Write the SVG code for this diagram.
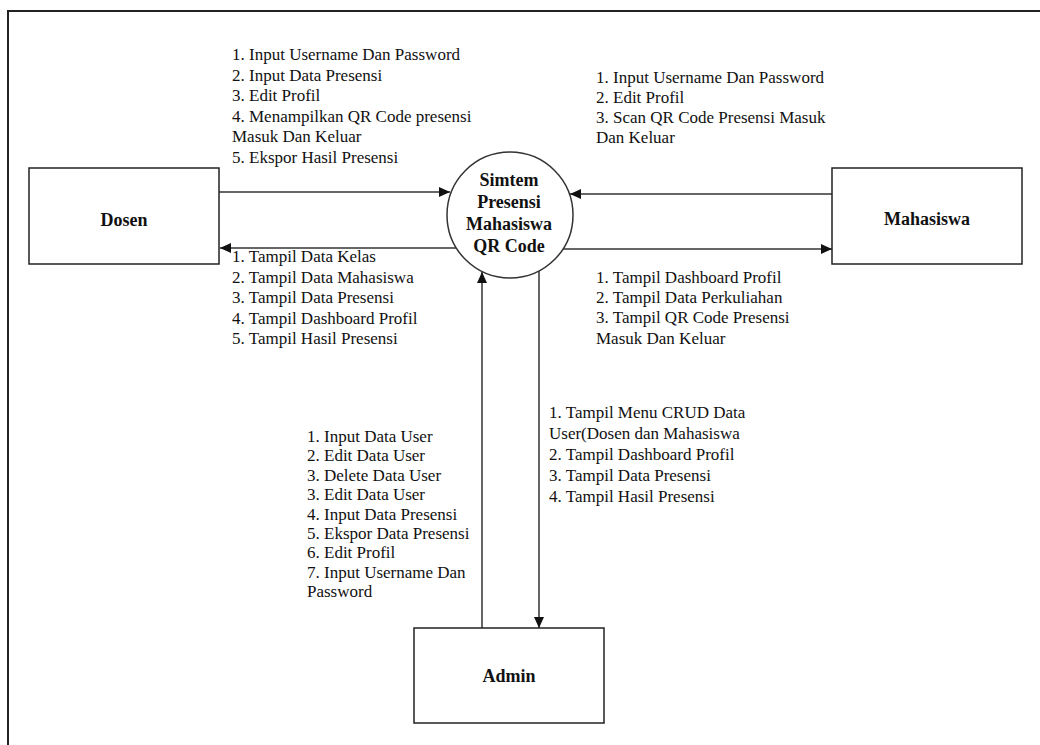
<svg xmlns="http://www.w3.org/2000/svg" width="1040" height="745" viewBox="0 0 1040 745" font-family="Liberation Serif, DejaVu Serif, serif">
  <style>
    .frame { fill: none; stroke: #222; stroke-width: 2; }
    .box { fill: #fff; stroke: #222; stroke-width: 1.5; }
    .proc { fill: #fff; stroke: #333; stroke-width: 1.5; }
    .flow { fill: none; stroke: #333; stroke-width: 1.5; marker-end: url(#head); }
    .title { font-size: 18px; font-weight: bold; text-anchor: middle; fill: #111; }
    .label { font-size: 17px; fill: #111; }
  </style>
  <defs>
    <marker id="head" markerUnits="userSpaceOnUse" markerWidth="12" markerHeight="10" refX="11" refY="5" orient="auto">
      <path d="M0,0 L11,5 L0,10 z" fill="#111"/>
    </marker>
  </defs>

  <rect width="1040" height="745" fill="#fff"/>
  <!-- page border (top and left edges) -->
  <path class="frame" d="M8,745 L8,11 L1040,11"/>

  <!-- connectors -->
  <g id="connectors">
    <line class="flow" x1="219" y1="192" x2="450" y2="192"/>
    <line class="flow" x1="456" y1="248" x2="220" y2="248"/>
    <line class="flow" x1="832" y1="194" x2="570" y2="194"/>
    <line class="flow" x1="563" y1="249" x2="832" y2="249"/>
    <line class="flow" x1="482" y1="628" x2="482" y2="272"/>
    <line class="flow" x1="539" y1="271" x2="539" y2="628"/>
  </g>

  <!-- central process -->
  <g id="sistem" font-family="Liberation Serif, serif">
    <circle class="proc" cx="510" cy="215" r="63"/>
    <text class="title" x="509" y="186">Simtem</text>
    <text class="title" x="509" y="208">Presensi</text>
    <text class="title" x="509" y="230">Mahasiswa</text>
    <text class="title" x="509" y="252">QR Code</text>
  </g>

  <!-- external entities -->
  <g id="dosen" font-family="Liberation Serif, serif">
    <rect class="box" x="29" y="168" width="190" height="96"/>
    <text class="title" x="124" y="226">Dosen</text>
  </g>
  <g id="mahasiswa" font-family="Liberation Serif, serif">
    <rect class="box" x="832" y="168" width="190" height="96"/>
    <text class="title" x="927" y="225">Mahasiswa</text>
  </g>
  <g id="admin" font-family="Liberation Serif, serif">
    <rect class="box" x="414" y="628" width="190" height="95"/>
    <text class="title" x="509" y="682">Admin</text>
  </g>

  <!-- flow labels -->
  <g id="label-dosen-in" class="label" font-family="Liberation Serif, serif">
    <text x="232" y="60">1. Input Username Dan Password</text>
    <text x="232" y="81">2. Input Data Presensi</text>
    <text x="232" y="101">3. Edit Profil</text>
    <text x="232" y="122">4. Menampilkan QR Code presensi</text>
    <text x="232" y="142">Masuk Dan Keluar</text>
    <text x="232" y="163">5. Ekspor Hasil Presensi</text>
  </g>
  <g id="label-dosen-out" class="label" font-family="Liberation Serif, serif">
    <text x="232" y="262">1. Tampil Data Kelas</text>
    <text x="232" y="283">2. Tampil Data Mahasiswa</text>
    <text x="232" y="303">3. Tampil Data Presensi</text>
    <text x="232" y="324">4. Tampil Dashboard Profil</text>
    <text x="232" y="344">5. Tampil Hasil Presensi</text>
  </g>
  <g id="label-mhs-in" class="label" font-family="Liberation Serif, serif">
    <text x="596" y="83">1. Input Username Dan Password</text>
    <text x="596" y="103">2. Edit Profil</text>
    <text x="596" y="123">3. Scan QR Code Presensi Masuk</text>
    <text x="596" y="143">Dan Keluar</text>
  </g>
  <g id="label-mhs-out" class="label" font-family="Liberation Serif, serif">
    <text x="596" y="283">1. Tampil Dashboard Profil</text>
    <text x="596" y="303">2. Tampil Data Perkuliahan</text>
    <text x="596" y="323">3. Tampil QR Code Presensi</text>
    <text x="596" y="344">Masuk Dan Keluar</text>
  </g>
  <g id="label-admin-in" class="label" font-family="Liberation Serif, serif">
    <text x="307" y="442">1. Input Data User</text>
    <text x="307" y="461">2. Edit Data User</text>
    <text x="307" y="481">3. Delete Data User</text>
    <text x="307" y="500">3. Edit Data User</text>
    <text x="307" y="520">4. Input Data Presensi</text>
    <text x="307" y="539">5. Ekspor Data Presensi</text>
    <text x="307" y="558">6. Edit Profil</text>
    <text x="307" y="578">7. Input Username Dan</text>
    <text x="307" y="597">Password</text>
  </g>
  <g id="label-admin-out" class="label" font-family="Liberation Serif, serif">
    <text x="549" y="418">1. Tampil Menu CRUD Data</text>
    <text x="549" y="439">User(Dosen dan Mahasiswa</text>
    <text x="549" y="460">2. Tampil Dashboard Profil</text>
    <text x="549" y="481">3. Tampil Data Presensi</text>
    <text x="549" y="502">4. Tampil Hasil Presensi</text>
  </g>
</svg>
